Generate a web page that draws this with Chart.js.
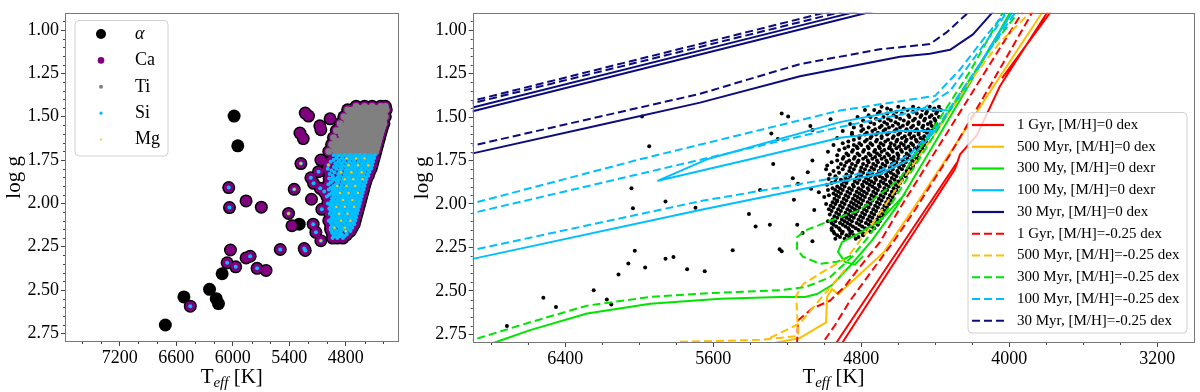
<!DOCTYPE html>
<html>
<head>
<meta charset="utf-8">
<script src="https://cdn.jsdelivr.net/npm/chart.js@4.4.0/dist/chart.umd.min.js"></script>
<style>
  html, body { margin: 0; padding: 0; background: #fff; }
  #wrap { position: relative; width: 1200px; height: 392px; overflow: hidden; }
  #leftBox { position: absolute; left: 0; top: 0; width: 405px; height: 392px; }
  #rightBox { position: absolute; left: 405px; top: 0; width: 795px; height: 392px; }
</style>
</head>
<body>
<div id="wrap">
  <div id="leftBox"><canvas id="leftChart"></canvas></div>
  <div id="rightBox"><canvas id="rightChart"></canvas></div>
</div>
<script>
// ===== TICKS =====
const leftXTicks = [7200, 6600, 6000, 5400, 4800];
const rightXTicks = [6400, 5600, 4800, 4000, 3200];
const yTicks = [1.00, 1.25, 1.50, 1.75, 2.00, 2.25, 2.50, 2.75];

// ===== STARS (isolated ones), Teff / log g / which abundances: a=alpha c=Ca t=Ti s=Si m=Mg =====
const starT = [6715, 6518, 6450, 6246, 6175, 6151, 6112, 6059, 6024, 5968, 5858, 5815, 5741, 5646, 6042, 6034, 5858, 5696, 5985, 5946,
  5495, 5407, 5371, 5294, 5347, 5276, 5286, 5251, 5230, 5195, 5241, 5230, 5170, 5142, 5164, 5146, 5117, 5064, 5064, 5075,
  5064, 5071, 5054, 5029, 4976, 4984, 4966, 4941, 4931, 5089];
const starG = [2.702, 2.540, 2.593, 2.496, 2.550, 2.578, 2.406, 2.343, 2.269, 2.366, 2.315, 2.305, 2.375, 2.387, 1.909, 2.024, 1.986, 2.022, 1.496, 1.668,
  2.266, 2.058, 2.129, 2.120, 1.919, 1.770, 1.594, 1.626, 1.479, 1.496, 2.261, 2.272, 1.852, 1.884, 1.976, 2.120, 2.167, 2.215, 1.575, 1.552,
  1.750, 1.913, 2.034, 1.932, 1.856, 1.779, 1.512, 1.919, 1.986, 1.817];
const starEl = ['a', 'a', 'cs', 'a', 'a', 'a', 'a', 'cs', 'c', 'cs', 'c', 'cs', 'cs', 'c', 'cs', 'cs', 'c', 'c', 'a', 'a',
  'cs', 'csm', 'c', 'a', 'csm', 'csm', 'c', 'c', 'c', 'c', 'cs', 'cs', 'cs', 'cs', 'c', 'cs', 'cs', 'csm', 'c', 'c',
  'c', 'cs', 'cs', 'cs', 'cs', 'csm', 'c', 'cs', 'c', 'cs'];

// ===== RED CLUMP: upper part (Ca + Ti measured), rows of log g with Teff per row =====
const clumpTiRowG = [1.44, 1.45, 1.46, 1.47, 1.48, 1.49, 1.50, 1.51, 1.52, 1.53, 1.54, 1.55, 1.56, 1.57, 1.58, 1.59,
  1.60, 1.61, 1.62, 1.63, 1.64, 1.65, 1.66, 1.67, 1.68, 1.69, 1.70, 1.71];
const clumpTiRowT = [
  [4380, 4430, 4520, 4600, 4690],
  [4405, 4490, 4570, 4660],
  [4370, 4410, 4470, 4550, 4640, 4730, 4780],
  [4390, 4445, 4520, 4610, 4700],
  [4395, 4450, 4500, 4580, 4660, 4710],
  [4420, 4475, 4545, 4625, 4760],
  [4380, 4430, 4480, 4540, 4610, 4680, 4750, 4820],
  [4405, 4455, 4510, 4590, 4655, 4720],
  [4400, 4460, 4520, 4570, 4640, 4700, 4790],
  [4425, 4490, 4545, 4615, 4675, 4750],
  [4395, 4440, 4490, 4550, 4600, 4660, 4730, 4860],
  [4420, 4465, 4520, 4575, 4630, 4690, 4800],
  [4410, 4470, 4530, 4590, 4650, 4700, 4760, 4840],
  [4440, 4500, 4555, 4610, 4670, 4725, 4790],
  [4420, 4460, 4510, 4560, 4620, 4680, 4740, 4800, 4900],
  [4445, 4490, 4535, 4590, 4650, 4710, 4770, 4850],
  [4430, 4490, 4540, 4600, 4660, 4720, 4780, 4850],
  [4460, 4515, 4565, 4625, 4690, 4745, 4810],
  [4440, 4480, 4530, 4580, 4630, 4690, 4750, 4810, 4930],
  [4465, 4505, 4555, 4605, 4655, 4715, 4770, 4840],
  [4450, 4500, 4560, 4610, 4670, 4720, 4780, 4870],
  [4480, 4530, 4585, 4640, 4695, 4750, 4810, 4900],
  [4460, 4520, 4570, 4620, 4680, 4740, 4800, 4840, 4950],
  [4490, 4545, 4595, 4645, 4705, 4765, 4825, 4870],
  [4470, 4510, 4560, 4610, 4650, 4700, 4760, 4820, 4890],
  [4495, 4535, 4585, 4635, 4675, 4725, 4785, 4845, 4920],
  [4480, 4530, 4580, 4630, 4690, 4730, 4790, 4850, 4980],
  [4505, 4555, 4605, 4660, 4715, 4760, 4820, 4880]
];
// ===== RED CLUMP: lower part (Ca + Si measured) =====
const clumpSiRowG = [1.72, 1.73, 1.74, 1.75, 1.76, 1.77, 1.78, 1.79, 1.80, 1.81, 1.82, 1.83, 1.84, 1.85, 1.86, 1.87,
  1.88, 1.89, 1.90, 1.91, 1.92, 1.93, 1.94, 1.95, 1.96, 1.97, 1.98, 1.99, 2.00, 2.01, 2.02, 2.03, 2.04, 2.05, 2.06,
  2.07, 2.08, 2.09, 2.10, 2.11, 2.12, 2.13, 2.14, 2.15, 2.16, 2.17, 2.18, 2.19, 2.20];
const clumpSiRowT = [
  [4490, 4540, 4600, 4650, 4700, 4750, 4810, 4870, 4930],
  [4515, 4565, 4625, 4675, 4725, 4775, 4835, 4895],
  [4500, 4550, 4600, 4640, 4690, 4740, 4790, 4840, 4900],
  [4525, 4575, 4625, 4665, 4715, 4765, 4815, 4865, 4930],
  [4510, 4560, 4610, 4660, 4710, 4760, 4820, 4880, 4960],
  [4535, 4585, 4635, 4685, 4735, 4790, 4850, 4910],
  [4520, 4570, 4620, 4670, 4720, 4770, 4830, 4890],
  [4545, 4595, 4645, 4695, 4745, 4800, 4860, 4925],
  [4530, 4580, 4630, 4680, 4730, 4780, 4840, 4900, 4990],
  [4555, 4605, 4655, 4705, 4755, 4805, 4865, 4950],
  [4550, 4600, 4640, 4690, 4740, 4790, 4850, 4920],
  [4570, 4625, 4665, 4715, 4765, 4815, 4880, 4970],
  [4560, 4610, 4660, 4700, 4750, 4800, 4860, 4940],
  [4585, 4635, 4685, 4725, 4775, 4825, 4885, 4935],
  [4580, 4620, 4670, 4720, 4760, 4810, 4870, 4910],
  [4600, 4645, 4695, 4745, 4785, 4835, 4895, 4940],
  [4590, 4640, 4680, 4730, 4770, 4820, 4880, 4960],
  [4615, 4665, 4705, 4755, 4795, 4845, 4905, 4985],
  [4600, 4650, 4700, 4740, 4790, 4840, 4890, 4930],
  [4625, 4675, 4725, 4765, 4815, 4865, 4915, 4955],
  [4610, 4660, 4710, 4760, 4800, 4850, 4900, 4980],
  [4635, 4685, 4735, 4785, 4825, 4875, 4925],
  [4620, 4670, 4720, 4770, 4810, 4860, 4910, 4950],
  [4645, 4695, 4745, 4795, 4835, 4885, 4935, 4975],
  [4630, 4680, 4730, 4780, 4820, 4870, 4920, 5000],
  [4655, 4705, 4755, 4805, 4845, 4895, 4945],
  [4640, 4690, 4740, 4790, 4830, 4880, 4930],
  [4665, 4715, 4765, 4815, 4855, 4905, 4955],
  [4650, 4700, 4750, 4800, 4840, 4890, 4940, 4990],
  [4675, 4725, 4775, 4825, 4865, 4915, 4965],
  [4660, 4710, 4760, 4810, 4850, 4900, 4950],
  [4685, 4735, 4785, 4835, 4875, 4925, 4975],
  [4670, 4720, 4770, 4820, 4860, 4910, 4960],
  [4695, 4745, 4795, 4845, 4885, 4935],
  [4680, 4730, 4780, 4830, 4870, 4920, 4970],
  [4705, 4755, 4805, 4855, 4895, 4945],
  [4690, 4740, 4790, 4840, 4880, 4930],
  [4715, 4765, 4815, 4865, 4905, 4955],
  [4700, 4750, 4800, 4850, 4890, 4940, 4980],
  [4725, 4775, 4825, 4875, 4915, 4960],
  [4710, 4760, 4810, 4860, 4900, 4950],
  [4745, 4795, 4845, 4885, 4935],
  [4730, 4780, 4830, 4870, 4920, 4960],
  [4765, 4815, 4865, 4915, 4960],
  [4750, 4800, 4850, 4900, 4950],
  [4790, 4860, 4905, 4945],
  [4790, 4840, 4880, 4930],
  [4815, 4865, 4915],
  [4830, 4890, 4940]
];
// Mg measured inside the clump
const mgT = [4600, 4690, 4790, 4560, 4670, 4770, 4630, 4740, 4850, 4620, 4720, 4810, 4700, 4790, 4890, 4670, 4770, 4860, 4730, 4830,
  4710, 4810, 4900, 4780, 4870, 4750, 4850, 4810, 4920, 4800];
const mgG = [1.74, 1.74, 1.74, 1.78, 1.78, 1.78, 1.82, 1.82, 1.82, 1.86, 1.86, 1.86, 1.90, 1.90, 1.90, 1.94, 1.94, 1.94, 1.98, 1.98,
  2.02, 2.02, 2.02, 2.06, 2.06, 2.10, 2.10, 2.14, 2.14, 2.16];

// ===== ISOCHRONES (Teff, log g; null = break) =====
const gyr1SolidT = [4969, 4931, 4282, null, 4936, 4899, 4293, 4266, 4174, 4050, 3796, 3758, null, 4039, 3780, 3740];
const gyr1SolidG = [2.855, 2.793, 1.760, null, 2.855, 2.793, 1.799, 1.715, 1.602, 1.321, 0.900, 0.827, null, 1.276, 0.900, 0.820];
const myr500SolidT = [5347, 5131, 4990, 4985, 4958, 4925, 4677, 4499, 4326, 4153, 3980, 3823, 3770];
const myr500SolidG = [2.816, 2.771, 2.681, 2.535, 2.490, 2.520, 2.276, 1.996, 1.715, 1.434, 1.153, 0.900, 0.800];
const myr300SolidT = [7000, 6769, 6590, 6282, 5941, 5563, 5239, 5104, 5039, 4958, 4850, 4742, 4607, 4418, 4212, 3996, 3930,
  null, 4560, 4699, 4823, 4904, 4926, 4888, 4834, 4790];
const myr300SolidG = [2.870, 2.793, 2.726, 2.630, 2.574, 2.546, 2.535, 2.535, 2.518, 2.467, 2.344, 2.209, 2.012, 1.675, 1.304, 0.900, 0.780,
  null, 1.939, 2.097, 2.175, 2.220, 2.276, 2.333, 2.349, 2.300];
const myr100SolidT = [7000, 6900, 5671, 5023, 4699, 4537, 4375, 4228, 4104, 3985, 3915,
  null, 4320, 4536, 4915, 5634, 5898, 5401, 4915, 4591, 4401];
const myr100SolidG = [2.338, 2.316, 2.035, 1.894, 1.827, 1.743, 1.546, 1.321, 1.097, 0.900, 0.788,
  null, 1.462, 1.451, 1.529, 1.743, 1.866, 1.743, 1.619, 1.580, 1.580];
const myr30SolidT = [7000, 6900, 5023, 4591, null, 7000, 6900, 5023, 4591, null,
  7000, 6900, 6212, 5671, 5131, 4591, 4429, 4320, 4196, 4093, 4000];
const myr30SolidG = [1.494, 1.467, 0.967, 0.853, null, 1.472, 1.445, 0.945, 0.831, null,
  1.733, 1.709, 1.546, 1.417, 1.265, 1.153, 1.136, 1.113, 1.024, 0.900, 0.800];

const gyr1DashT = [5147, 5142, 5066, 4969, 4888, 4807, 4699, 4591, 4320, 4159, 3931, 3870,
  null, 5034, 4942, 4861, 4753, 4628, 4510, 4320, 4104, 3877, 3820];
const gyr1DashG = [2.810, 2.670, 2.602, 2.557, 2.473, 2.361, 2.220, 2.024, 1.563, 1.288, 0.900, 0.790,
  null, 2.838, 2.698, 2.557, 2.400, 2.220, 2.035, 1.715, 1.321, 0.900, 0.800];
const myr500DashT = [5780, 5347, 5141, 5147, 5152, 5115, 5023, 4877, 4753, 4591, 4412, 4212, 4050, 3888, 3830,
  null, 5293, 5131, 5061, 4985, 4888];
const myr500DashG = [2.793, 2.782, 2.760, 2.625, 2.529, 2.462, 2.400, 2.310, 2.136, 1.883, 1.613, 1.293, 1.069, 0.900, 0.800,
  null, 2.771, 2.687, 2.597, 2.501, 2.378];
const myr300DashT = [7000, 6900, 6590, 6282, 5941, 5601, 5239, 5104, 4969, 4850, 4764, 4645, 4455, 4266, 4104, 3953, 3880,
  null, 3996, 4050, 4212, 4375, 4591, 4807, 4969, 5104, 5147, 5147, 5115, 5023, 4931, 4834];
const myr300DashG = [2.810, 2.782, 2.681, 2.585, 2.535, 2.512, 2.496, 2.479, 2.422, 2.304, 2.192, 2.012, 1.687, 1.366, 1.108, 0.900, 0.780,
  null, 0.816, 0.928, 1.237, 1.507, 1.855, 2.035, 2.097, 2.153, 2.192, 2.260, 2.304, 2.344, 2.333, 2.288];
const myr100DashT = [7000, 6900, 5996, 4915, 4401, 4266, 4131, 4023, 3950,
  null, 7000, 6900, 5996, 4915, 4482, 4320, 4185, 4050, 3985,
  null, 7000, 6900, 5671, 4877, 4699, 4537, 4375, 4239, 4104, 3969, 3900];
const myr100DashG = [2.024, 1.996, 1.743, 1.462, 1.378, 1.226, 1.040, 0.900, 0.780,
  null, 2.076, 2.052, 1.827, 1.557, 1.462, 1.349, 1.153, 0.956, 0.844,
  null, 2.288, 2.265, 1.984, 1.838, 1.810, 1.715, 1.535, 1.321, 1.108, 0.900, 0.780];
const myr30DashT = [7000, 6900, 5023, 4861, null, 7000, 6900, 5023, 4861, null,
  7000, 6900, 5671, 5131, 4700, 4429, 4337, 4223, 4150];
const myr30DashG = [1.433, 1.406, 0.906, 0.862, null, 1.447, 1.420, 0.925, 0.882, null,
  1.688, 1.664, 1.366, 1.195, 1.110, 1.080, 1.011, 0.900, 0.830];

// ===== STYLE =====
const SERIF = "'Liberation Serif', 'Times New Roman', 'DejaVu Serif', serif";
const RED = '#ff0000', ORANGE = '#ffbf00', GREEN = '#00e400', LBLUE = '#00bfff', NAVY = '#0c0c7c';
const elementStyle = [
  { key: 'a', label: 'α', color: '#000000', r: 6.5, legR: 5, italic: true },
  { key: 'c', label: 'Ca', color: '#800080', r: 5, legR: 3.3 },
  { key: 't', label: 'Ti', color: '#808080', r: 3.4, legR: 2 },
  { key: 's', label: 'Si', color: '#00bfff', r: 2, legR: 1.6 },
  { key: 'm', label: 'Mg', color: '#ffcc00', r: 1.2, legR: 1.1 }
];

// ===== BUILD STAR LIST =====
const stars = [];
starT.forEach((t, i) => stars.push({ x: t, y: starG[i], el: starEl[i] }));
clumpTiRowG.forEach((g, r) => (clumpTiRowT[r] || []).forEach(t => stars.push({ x: t, y: g, el: 'ct' })));
clumpSiRowG.forEach((g, r) => (clumpSiRowT[r] || []).forEach(t => stars.push({ x: t, y: g, el: 'cs' })));
mgT.forEach((t, i) => stars.push({ x: t, y: mgG[i], el: 'm' }));

function pts(ts, gs) {
  return ts.map((t, i) => ({ x: t, y: gs[i] }));
}

function lineSet(label, ts, gs, color, dashed, order) {
  return {
    label: label,
    data: pts(ts, gs),
    showLine: true,
    borderColor: color,
    backgroundColor: color,
    borderWidth: 2,
    borderDash: dashed ? [8, 4] : [],
    borderJoinStyle: 'round',
    pointRadius: 0,
    pointHoverRadius: 0,
    spanGaps: false,
    tension: 0,
    fill: false,
    order: order
  };
}

// ===== FRAME / MINOR TICKS / TITLES / LEGEND PLUGIN =====
const framePlugin = {
  id: 'frame',
  afterDraw(chart, args, o) {
    const { ctx, chartArea: a } = chart;
    const xs = chart.scales.x, ys = chart.scales.y;
    ctx.save();

    // minor ticks
    ctx.strokeStyle = '#444';
    ctx.lineWidth = 1;
    ctx.beginPath();
    for (let v = o.xMinorFrom; v < xs.max; v += 200) {
      if (v <= xs.min || o.xMajor.includes(v)) continue;
      const px = Math.round(xs.getPixelForValue(v)) + 0.5;
      ctx.moveTo(px, a.bottom);
      ctx.lineTo(px, a.bottom + 2);
    }
    for (let k = 19; k < 56; k++) {
      if (k % 5 === 0) continue;
      const py = Math.round(ys.getPixelForValue(k * 0.05)) + 0.5;
      ctx.moveTo(a.left, py);
      ctx.lineTo(a.left - 2, py);
    }
    ctx.stroke();

    // frame
    ctx.strokeStyle = '#777';
    ctx.strokeRect(Math.round(a.left) + 0.5, Math.round(a.top) + 0.5,
      Math.round(a.right - a.left) - 1, Math.round(a.bottom - a.top) - 1);

    // y title
    ctx.fillStyle = '#000';
    ctx.save();
    ctx.translate(o.yTitleX, (a.top + a.bottom) / 2);
    ctx.rotate(-Math.PI / 2);
    ctx.font = `21px ${SERIF}`;
    ctx.textAlign = 'center';
    ctx.textBaseline = 'middle';
    ctx.fillText('log g', 0, 0);
    ctx.restore();

    // x title  T_eff [K]
    ctx.textAlign = 'left';
    ctx.textBaseline = 'alphabetic';
    ctx.font = `21px ${SERIF}`;
    const wT = ctx.measureText('T').width, wK = ctx.measureText(' [K]').width;
    ctx.font = `italic 15px ${SERIF}`;
    const wE = ctx.measureText('eff').width;
    const x0 = (a.left + a.right) / 2 - (wT + wE + wK) / 2;
    ctx.font = `21px ${SERIF}`;
    ctx.fillText('T', x0, o.xTitleY);
    ctx.font = `italic 15px ${SERIF}`;
    ctx.fillText('eff', x0 + wT, o.xTitleY + 4);
    ctx.font = `21px ${SERIF}`;
    ctx.fillText(' [K]', x0 + wT + wE, o.xTitleY);

    // legend box
    const L = o.legend;
    ctx.beginPath();
    if (ctx.roundRect) ctx.roundRect(L.x, L.y, L.w, L.h, 4); else ctx.rect(L.x, L.y, L.w, L.h);
    ctx.fillStyle = 'rgba(255,255,255,0.8)';
    ctx.fill();
    ctx.strokeStyle = '#d0d0d0';
    ctx.lineWidth = 1;
    ctx.stroke();
    ctx.textBaseline = 'middle';
    ctx.textAlign = 'left';

    if (L.kind === 'markers') {
      elementStyle.forEach((s, i) => {
        const y = L.rowY + i * L.rowStep;
        ctx.fillStyle = s.color;
        ctx.beginPath();
        ctx.arc(L.markX, y, s.legR, 0, Math.PI * 2);
        ctx.fill();
        ctx.fillStyle = '#000';
        ctx.font = (s.italic ? 'italic ' : '') + `18px ${SERIF}`;
        ctx.fillText(s.label, L.textX, y);
      });
    } else {
      const sets = chart.data.datasets.filter(d => d.showLine);
      sets.forEach((d, i) => {
        const y = L.rowY + i * L.rowStep;
        ctx.strokeStyle = d.borderColor;
        ctx.lineWidth = 2.2;
        ctx.setLineDash(d.borderDash);
        ctx.beginPath();
        ctx.moveTo(L.lineX0, y);
        ctx.lineTo(L.lineX1, y);
        ctx.stroke();
        ctx.setLineDash([]);
        ctx.fillStyle = '#000';
        ctx.font = `15px ${SERIF}`;
        ctx.fillText(d.label, L.textX, y);
      });
    }
    ctx.restore();
  }
};

function axes(xmin, xmax, xTicks, yWidth, xHeight) {
  const tickFont = { family: SERIF, size: 18 };
  const grid = { display: true, drawOnChartArea: false, drawTicks: true, tickLength: 4, color: '#444', lineWidth: 1 };
  return {
    x: {
      type: 'linear', min: xmin, max: xmax, reverse: true,
      afterBuildTicks: s => { s.ticks = xTicks.map(v => ({ value: v })); },
      afterFit: s => { s.height = xHeight; },
      grid: grid,
      border: { display: false },
      ticks: { font: tickFont, color: '#000', padding: 1, maxRotation: 0, autoSkip: false, callback: v => String(v) }
    },
    y: {
      type: 'linear', min: 0.9, max: 2.8, reverse: true,
      afterBuildTicks: s => { s.ticks = yTicks.map(v => ({ value: v })); },
      afterFit: s => { s.width = yWidth; },
      grid: grid,
      border: { display: false },
      ticks: { font: tickFont, color: '#000', padding: 2, autoSkip: false, callback: v => Number(v).toFixed(2) }
    }
  };
}

// ===== LEFT PANEL: abundance groups =====
const leftSets = elementStyle.map((s, i) => ({
  label: s.label,
  data: stars.filter(p => s.key === 'a' || p.el.includes(s.key)),
  backgroundColor: s.color,
  borderWidth: 0,
  pointRadius: s.r,
  pointHoverRadius: s.r,
  order: 10 - i
}));

new Chart(document.getElementById('leftChart'), {
  type: 'scatter',
  data: { datasets: leftSets },
  options: {
    responsive: true, maintainAspectRatio: false, animation: false, devicePixelRatio: 1, events: [],
    layout: { padding: { left: 0, right: 5, top: 10, bottom: 0 } },
    scales: axes(4240, 7780, leftXTicks, 65, 50),
    plugins: {
      legend: { display: false }, tooltip: { enabled: false },
      frame: {
        xMinorFrom: 4400, xMajor: leftXTicks, yTitleX: 14.5, xTitleY: 383,
        legend: { kind: 'markers', x: 75, y: 20.5, w: 93, h: 135.5, markX: 101, textX: 135, rowY: 34, rowStep: 26.4 }
      }
    }
  },
  plugins: [framePlugin]
});

// ===== RIGHT PANEL: stars + isochrones =====
const rightSets = [
  lineSet('1 Gyr, [M/H]=0 dex', gyr1SolidT, gyr1SolidG, RED, false, 10),
  lineSet('500 Myr, [M/H]=0 dex', myr500SolidT, myr500SolidG, ORANGE, false, 9),
  lineSet('300 My, [M/H]=0 dexr', myr300SolidT, myr300SolidG, GREEN, false, 8),
  lineSet('100 My, [M/H]=0 dexr', myr100SolidT, myr100SolidG, LBLUE, false, 7),
  lineSet('30 Myr, [M/H]=0 dex', myr30SolidT, myr30SolidG, NAVY, false, 6),
  lineSet('1 Gyr, [M/H]=-0.25 dex', gyr1DashT, gyr1DashG, RED, true, 5),
  lineSet('500 Myr, [M/H]=-0.25 dex', myr500DashT, myr500DashG, ORANGE, true, 4),
  lineSet('300 Myr, [M/H]=-0.25 dex', myr300DashT, myr300DashG, GREEN, true, 3),
  lineSet('100 Myr, [M/H]=-0.25 dex', myr100DashT, myr100DashG, LBLUE, true, 2),
  lineSet('30 Myr, [M/H]=-0.25 dex', myr30DashT, myr30DashG, NAVY, true, 1),
  {
    label: 'stars',
    data: stars.filter(p => p.el !== 'm'),
    backgroundColor: '#000',
    borderWidth: 0,
    pointRadius: 2,
    pointHoverRadius: 2,
    order: 20
  }
];

new Chart(document.getElementById('rightChart'), {
  type: 'scatter',
  data: { datasets: rightSets },
  options: {
    responsive: true, maintainAspectRatio: false, animation: false, devicePixelRatio: 1, events: [],
    layout: { padding: { left: 0, right: 5.7, top: 5, bottom: 0 } },
    scales: axes(3000, 6900, rightXTicks, 67.7, 49),
    plugins: {
      legend: { display: false }, tooltip: { enabled: false },
      frame: {
        xMinorFrom: 3200, xMajor: rightXTicks, yTitleX: 17, xTitleY: 383,
        legend: { kind: 'lines', x: 563, y: 112.5, w: 219, h: 220.5, lineX0: 567, lineX1: 599, textX: 612, rowY: 125, rowStep: 21.75 }
      }
    }
  },
  plugins: [framePlugin]
});
</script>
</body>
</html>
